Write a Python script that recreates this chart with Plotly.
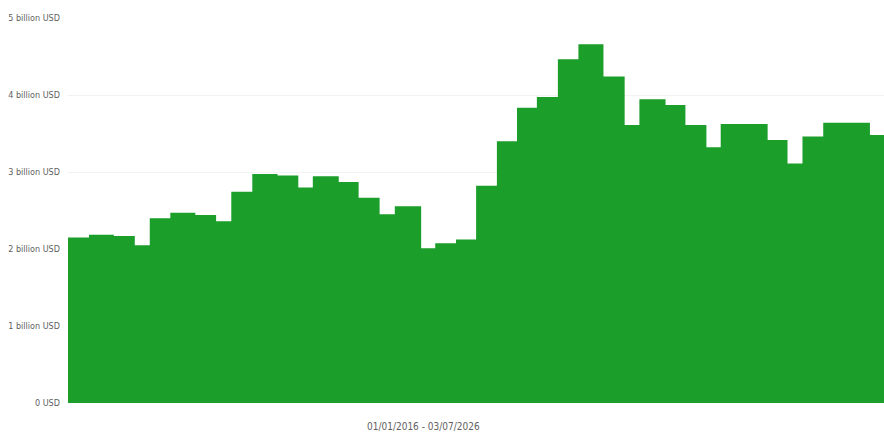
import plotly.graph_objects as go

# Step start dates and values in billion USD
period_start = [
    "2016-01-01", "2016-04-04", "2016-07-24", "2016-10-26",
    "2017-01-01", "2017-04-03", "2017-07-24", "2017-10-25",
    "2018-01-01", "2018-04-05", "2018-07-27", "2018-10-28",
    "2019-01-01", "2019-04-27", "2019-07-25", "2019-10-27",
    "2020-01-03", "2020-04-30", "2020-07-02", "2020-10-03",
    "2021-01-01", "2021-04-04", "2021-07-03", "2021-09-30",
    "2022-01-02", "2022-04-04", "2022-07-25", "2022-10-28",
    "2023-01-02", "2023-04-29", "2023-07-27", "2023-10-29",
    "2024-01-01", "2024-04-04", "2024-07-29", "2024-10-26",
    "2025-01-01", "2025-04-04", "2025-07-25", "2025-10-30",
]
values_bn = [
    2.15, 2.185, 2.17, 2.05,
    2.40, 2.47, 2.44, 2.36,
    2.745, 2.975, 2.955, 2.80,
    2.945, 2.87, 2.665, 2.45,
    2.555, 2.01, 2.075, 2.125,
    2.82, 3.40, 3.835, 3.975,
    4.465, 4.66, 4.24, 3.61,
    3.945, 3.87, 3.61, 3.32,
    3.625, 3.625, 3.415, 3.11,
    3.46, 3.64, 3.64, 3.48,
]
range_start = "2016-01-01"
range_end = "2026-01-01"
y_tick_values = [0, 1, 2, 3, 4, 5]
y_tick_labels = ["0 USD", "1 billion USD", "2 billion USD", "3 billion USD",
                 "4 billion USD", "5 billion USD"]
period_label = "01/01/2016 - 03/07/2026"

# close the last step at the end of the visible range
xs = period_start + [range_end]
ys = values_bn + [values_bn[-1]]

FONT = "Liberation Sans Narrow, DejaVu Sans Condensed, Open Sans"

fig = go.Figure()
fig.add_trace(go.Scatter(
    x=xs, y=ys, mode="lines", line=dict(shape="hv", width=0, color="#1b9e2a"),
    fill="tozeroy", fillcolor="#1b9e2a", hoverinfo="skip", showlegend=False,
))

fig.update_layout(
    width=884, height=441,
    margin=dict(l=68, r=0, t=18, b=38),
    paper_bgcolor="white", plot_bgcolor="white",
    font=dict(family=FONT, color="#5f5f5f", size=10),
    xaxis=dict(range=[range_start, range_end], showticklabels=False,
               showgrid=False, zeroline=False, showline=False, ticks=""),
    yaxis=dict(range=[0, 5], tickvals=y_tick_values, ticktext=y_tick_labels,
               showgrid=True, gridcolor="#f2f2f2", gridwidth=1,
               zeroline=False, showline=False, ticks="", ticklabelstandoff=7,
               tickfont=dict(family=FONT, size=9, color="#5f5f5f")),
    annotations=[dict(
        text=period_label, xref="paper", yref="paper",
        x=(423 - 68) / 816, y=-0.062, xanchor="center", yanchor="middle",
        showarrow=False, font=dict(family=FONT, size=10, color="#5f5f5f"),
    )],
)

fig.write_html(
    "out.html",
    config={"displayModeBar": False},
    post_script="document.body.style.margin='0px';document.body.style.overflow='hidden';",
)
